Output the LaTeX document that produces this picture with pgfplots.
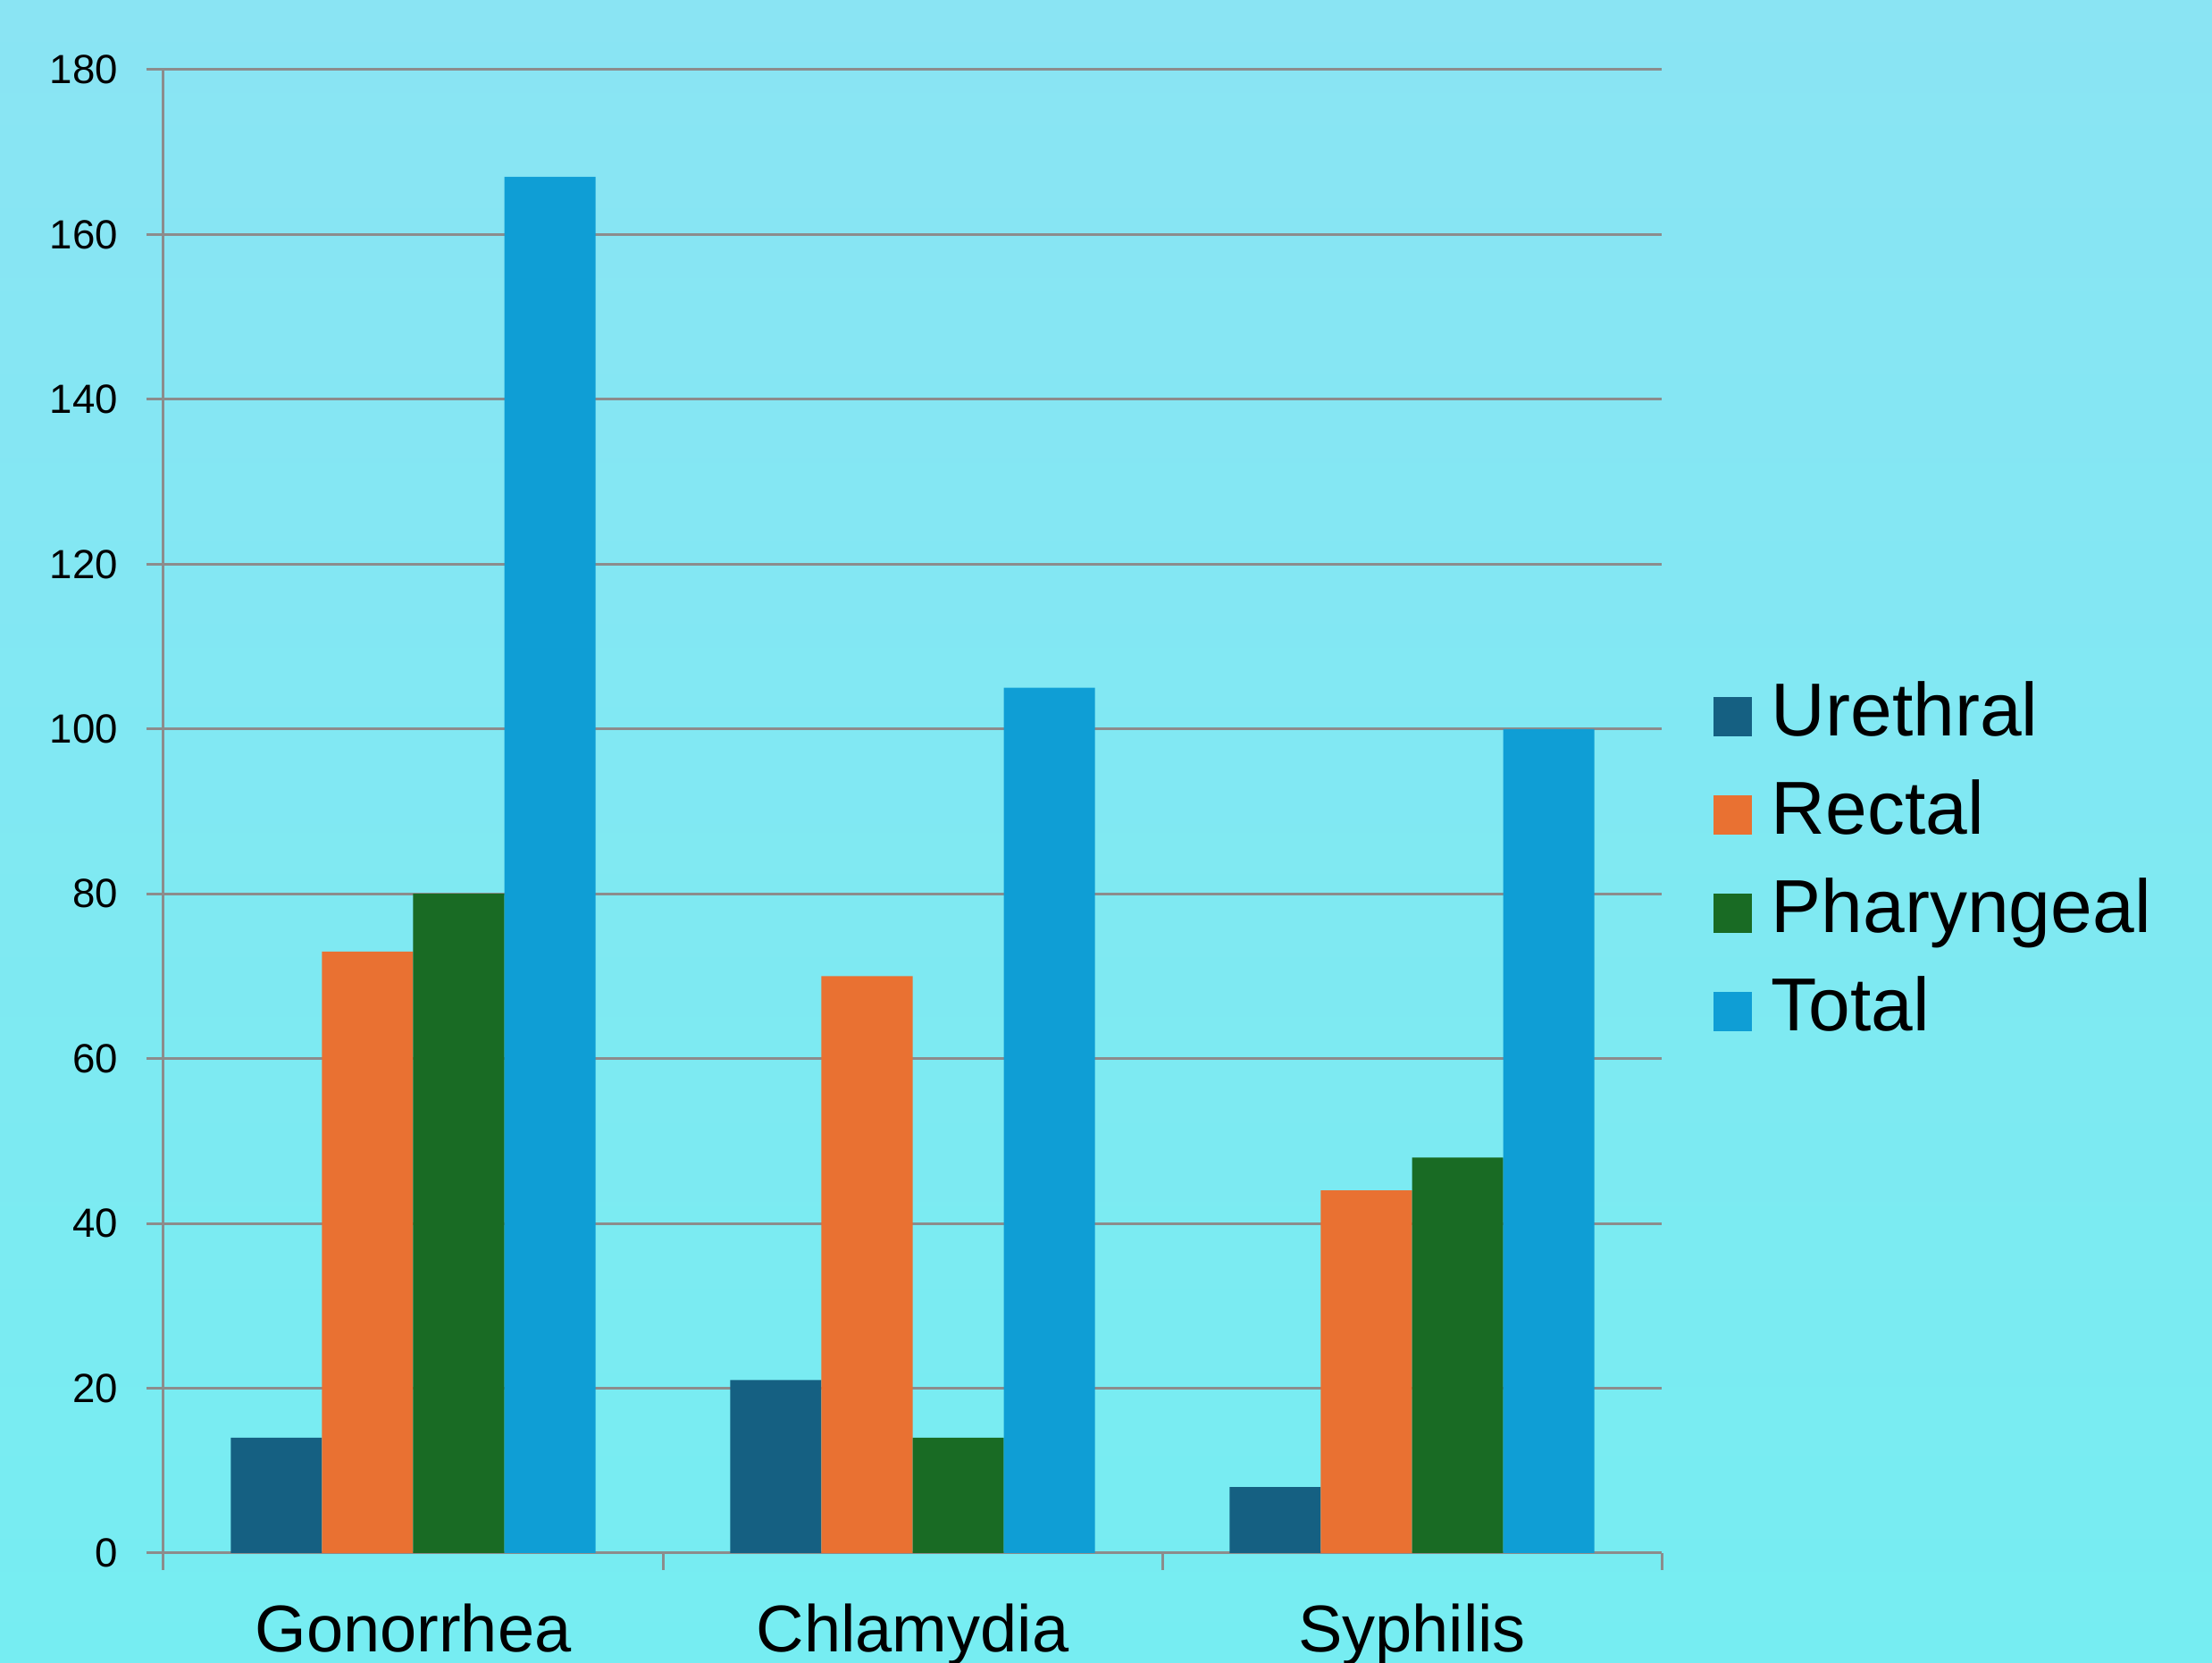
\documentclass[border=0pt]{standalone}
\usepackage{pgfplots}
\pgfplotsset{compat=1.18}
\usepackage{fontspec}
\setmainfont{Liberation Sans}
\definecolor{cUre}{HTML}{156082}
\definecolor{cRec}{HTML}{E97132}
\definecolor{cPha}{HTML}{196B24}
\definecolor{cTot}{HTML}{0F9ED5}
\definecolor{cGrid}{HTML}{8C8C8C}
\definecolor{bgTop}{RGB}{138,228,243}
\definecolor{bgBot}{RGB}{118,237,242}
\begin{document}
\begin{tikzpicture}
\useasboundingbox (0,0) rectangle (619pt,465.25pt);
\shade[top color=bgTop, bottom color=bgBot] (0,0) rectangle (619pt,465.25pt);
\begin{axis}[
  scale only axis,
  width=419.25pt, height=415pt,
  at={(45.75pt,30.75pt)}, anchor=south west,
  ybar=0pt, bar width=0.1825,
  xmin=-0.5, xmax=2.5, ymin=0, ymax=180,
  ytick={0,20,...,180},
  xtick={-0.5,0.5,1.5,2.5}, xticklabels={},
  extra x ticks={0,1,2},
  extra x tick labels={Gonorrhea,Chlamydia,Syphilis},
  extra x tick style={major tick length=0pt, tick style={draw=none}, grid=none},
  axis x line*=bottom, axis y line*=left,
  axis line style={cGrid, line width=0.75pt},
  tick style={cGrid, line width=0.75pt},
  major tick length=4.75pt, tick align=outside,
  ymajorgrids, grid style={cGrid, line width=0.75pt},
  /pgf/number format/assume math mode=true,
  yticklabel style={font=\fontsize{11.4}{13}\selectfont, inner sep=0pt, xshift=-7.8pt},
  xticklabel style={font=\fontsize{18.5}{22}\selectfont, inner sep=0pt, yshift=-14pt},
  legend style={at={(1.034,0.4645)}, anchor=west, draw=none, fill=none, inner sep=0pt,
    font=\fontsize{21}{25}\selectfont, row sep=7.5pt,
    nodes={inner sep=0pt, text height=15.5pt, text depth=4.5pt}},
  legend cell align=left,
  legend image code/.code={\fill[#1] (0pt,-5.4pt) rectangle (10.75pt,5.4pt); \path (16.25pt,0pt);},
]
\addplot[fill=cUre, draw=none] coordinates {(0,14) (1,21) (2,8)};
\addplot[fill=cRec, draw=none] coordinates {(0,73) (1,70) (2,44)};
\addplot[fill=cPha, draw=none] coordinates {(0,80) (1,14) (2,48)};
\addplot[fill=cTot, draw=none] coordinates {(0,167) (1,105) (2,100)};
\legend{Urethral,Rectal,Pharyngeal,Total}
\end{axis}
\end{tikzpicture}
\end{document}
